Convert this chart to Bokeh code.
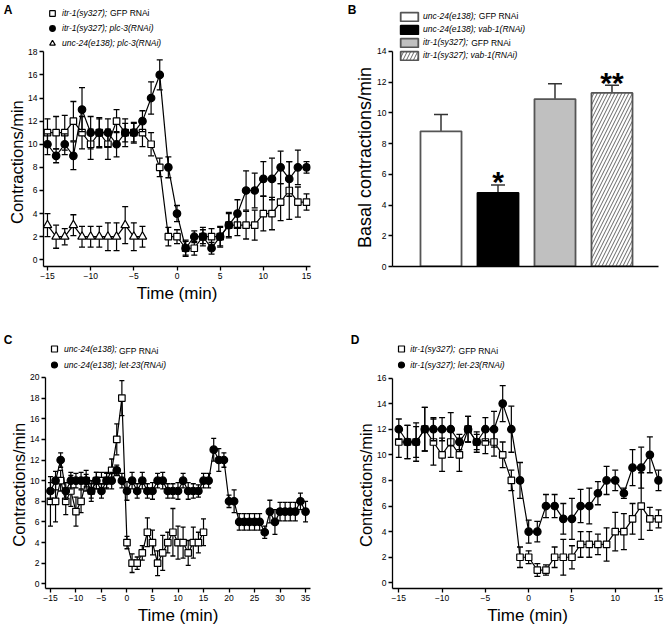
from bokeh.plotting import figure
from bokeh.layouts import column, row
from bokeh.models import (Range1d, FixedTicker, Legend, LegendItem, Title, ColumnDataSource,
                          LinearAxis, PrintfTickFormatter)
from bokeh.embed import file_html
from bokeh.resources import INLINE
from bokeh.core.properties import value

FONT = "Liberation Sans"

# ---------------- Panel A ----------------
t_A = list(range(-15, 16))
itr_gfp_A = [11, 11, 11, 12, 11, 10, 11, 10, 12, 11, 11, 11, 10, 8,
             2, 2, 1, 1, 2, 2, 2, 3, 3, 3, 3, 4, 4, 5, 6, 5, 5]
itr_gfp_A_err = [1.2, 1.4, 1.5, 1.7, 1.4, 1.3, 1.2, 1.3, 1.0, 0.8, 0.9, 1.2, 1.0, 0.8,
                 0.8, 0.6, 0.6, 0.6, 0.8, 0.7, 0.8, 1.0, 0.9, 1.2, 1.3, 1.5, 1.4, 1.6, 2.5, 1.3, 0.7]
itr_plc_A = [10, 9, 10, 9, 13, 11, 11, 11, 10, 11, 11, 12, 14, 16,
             8, 4, 1, 2, 2, 1, 2, 3, 4, 6, 6, 7, 7, 8, 7, 8, 8]
itr_plc_A_err = [0.9, 0.6, 0.9, 1.2, 1.9, 1.4, 1.3, 1.2, 1.1, 1.2, 0.8, 0.9, 1.4, 1.3,
                 0.9, 0.7, 0.7, 0.5, 0.6, 0.5, 0.9, 1.1, 1.2, 1.7, 1.5, 1.5, 1.8, 1.4, 1.5, 1.5, 0.5]
t_A_unc = list(range(-15, -3))
unc_plc_A = [3, 2, 2, 3, 2, 2, 2, 2, 2, 3, 2, 2]
unc_plc_A_err = [1.0, 1.0, 0.7, 0.9, 0.9, 0.9, 0.9, 1.2, 1.2, 1.6, 1.2, 0.9]
labels_A = ["itr-1(sy327);", "itr-1(sy327); plc-3(RNAi)", "unc-24(e138); plc-3(RNAi)"]
plain_A = ["GFP RNAi"]

# ---------------- Panel B ----------------
groups_B = ["unc-24(e138);", "unc-24(e138); vab-1(RNAi)",
            "itr-1(sy327);", "itr-1(sy327); vab-1(RNAi)"]
plain_B = ["GFP RNAi", "GFP RNAi"]
pos_B = [1, 2, 3, 4]
basal_B = [8.8, 4.8, 10.9, 11.3]
basal_B_err = [1.1, 0.5, 1.0, 0.5]
fill_B = ["white", "black", "#c0c0c0", "white"]
line_B = ["#555555", "black", "#555555", "#555555"]
hatch_B = [" ", " ", " ", "/"]
star_pos_B = [2, 4]
star_y_B = [5.53, 11.98]
star_text_B = ["*", "**"]

# ---------------- Panel C ----------------
t_C_gfp = list(range(-15, 16))
unc_gfp_C = [8, 8, 10, 8, 9, 7, 8, 10, 9, 10, 10, 10, 11, 14, 18,
             4, 2, 2, 3, 5, 4, 2, 3, 4, 5, 4, 4, 3, 4, 4, 5]
unc_gfp_C_err = [2.4, 2.0, 1.0, 1.3, 1.5, 1.4, 1.1, 1.0, 1.0, 0.8, 0.8, 0.8, 1.1, 1.5, 1.7,
                 0.6, 0.9, 0.6, 0.7, 1.4, 1.2, 1.2, 1.7, 1.0, 2.3, 1.6, 1.5, 1.2, 1.5, 1.0, 1.3]
t_C_let = list(range(-15, 36))
unc_let_C = [9, 10, 12, 9, 10, 10, 10, 10, 9, 10, 9, 10, 10, 11, 10,
             9, 10, 9, 10, 9, 9, 10, 10, 9, 9, 9, 10, 9, 9, 9, 10, 10,
             13, 12, 12, 8, 8, 6, 6, 6, 6, 6, 5, 7, 6, 7, 7, 7, 7, 8, 7]
unc_let_C_err = [0.8, 0.9, 0.7, 0.8, 0.8, 0.7, 0.8, 0.6, 0.7, 0.8, 0.7, 0.7, 0.8, 0.5, 0.7,
                 0.9, 0.8, 0.7, 0.8, 0.7, 0.8, 0.7, 0.8, 0.7, 0.7, 0.8, 0.7, 0.8, 0.7, 0.6, 0.7, 0.7,
                 1.1, 1.1, 0.7, 0.6, 1.1, 0.8, 0.8, 0.8, 0.8, 0.8, 0.6, 1.1, 1.2, 0.9, 0.9, 0.9, 0.9, 0.8, 1.0]
labels_C = ["unc-24(e138);", "unc-24(e138); let-23(RNAi)"]
plain_C = ["GFP RNAi"]

# ---------------- Panel D ----------------
t_D = list(range(-15, 16))
itr_gfp_D = [11, 11, 11, 12, 11, 10, 11, 10, 12, 11, 11, 11, 10, 8,
             2, 2, 1, 1, 2, 2, 2, 3, 3, 3, 3, 4, 4, 5, 6, 5, 5]
itr_gfp_D_err = [1.2, 1.3, 1.5, 1.7, 1.8, 1.3, 1.2, 1.3, 1.0, 0.8, 0.9, 1.1, 1.0, 0.8,
                 0.8, 0.5, 0.5, 0.4, 0.8, 1.4, 0.9, 1.0, 1.0, 0.8, 1.3, 1.5, 1.4, 1.2, 2.6, 0.9, 0.7]
itr_let_D = [12, 11, 11, 12, 12, 12, 12, 11, 12, 11, 12, 12, 14, 12,
             8, 4, 4, 6, 6, 5, 5, 6, 6, 7, 8, 8, 7, 9, 9, 10, 8]
itr_let_D_err = [0.8, 1.3, 1.2, 1.7, 0.9, 0.9, 1.3, 0.6, 1.0, 0.6, 0.9, 1.4, 1.4, 1.8,
                 1.4, 0.9, 0.8, 0.9, 0.9, 1.2, 1.6, 1.3, 1.4, 0.9, 1.1, 0.8, 0.4, 1.4, 1.6, 1.4, 0.8]
labels_D = ["itr-1(sy327);", "itr-1(sy327); let-23(RNAi)"]
plain_D = ["GFP RNAi"]


def series(p, t, v, e, marker, fill, size, cap=6):
    lo = [a - b for a, b in zip(v, e)]
    hi = [a + b for a, b in zip(v, e)]
    src = ColumnDataSource(dict(t=t, v=v, lo=lo, hi=hi))
    p.segment(x0="t", y0="lo", x1="t", y1="hi", source=src, line_color="black", line_width=1.2)
    p.scatter(x="t", y="hi", source=src, marker="dash", size=cap, line_color="black", line_width=1.3)
    p.scatter(x="t", y="lo", source=src, marker="dash", size=cap, line_color="black", line_width=1.3)
    p.line(x="t", y="v", source=src, line_color="black", line_width=1.2)
    return p.scatter(x="t", y="v", source=src, marker=marker, size=size, fill_color=fill,
                     line_color="black", line_width=1.2)


def make_fig(w, h, left, right, bottom, xr, yr):
    p = figure(width=w, height=h, x_range=Range1d(*xr), y_range=Range1d(*yr),
               output_backend="svg", toolbar_location=None, title=None,
               min_border_left=left, min_border_right=right, min_border_top=0,
               min_border_bottom=bottom)
    p.outline_line_color = None
    p.xgrid.visible = False
    p.ygrid.visible = False
    p.background_fill_color = "white"
    for ax in (p.xaxis[0], p.yaxis[0]):
        ax.axis_line_width = 1.3
        ax.axis_line_color = "black"
        ax.major_tick_line_width = 1.3
        ax.major_tick_line_color = "black"
        ax.major_tick_out = 4
        ax.major_tick_in = 0
        ax.minor_tick_line_color = None
        ax.major_label_text_font = FONT
        ax.major_label_text_font_size = "8.5px"
        ax.major_label_text_color = "black"
        ax.major_label_standoff = 2
        ax.axis_label_text_font = FONT
        ax.axis_label_text_font_size = "17px"
        ax.axis_label_text_font_style = "normal"
        ax.axis_label_text_color = "black"
        ax.axis_label_standoff = 2
    return p


def ylabel(p, text, size, offset):
    p.add_layout(Title(text=text, align="left", offset=offset, standoff=0,
                       text_font=FONT, text_font_size=size, text_font_style="normal",
                       text_color="black"), "left")


def letter(p, text, ypos, standoff):
    # panel letter drawn as the single tick label of a bare, outermost left axis
    ax = LinearAxis(ticker=FixedTicker(ticks=[ypos]),
                    formatter=PrintfTickFormatter(format=text),
                    axis_line_color=None, major_tick_line_color=None,
                    minor_tick_line_color=None, major_tick_out=0, major_tick_in=0,
                    major_label_standoff=standoff, major_label_text_font=FONT,
                    major_label_text_font_size="12px", major_label_text_font_style="bold",
                    major_label_text_color="black")
    p.add_layout(ax, "left")


def legend(p, items, loc, gw, gh, spacing, standoff):
    lg = Legend(items=items, location=loc, orientation="vertical", glyph_width=gw,
                glyph_height=gh, label_height=gh, label_standoff=standoff, spacing=spacing,
                padding=0, margin=0, border_line_color=None, background_fill_alpha=0,
                label_text_font=FONT, label_text_font_size="8.5px",
                label_text_font_style="italic", label_text_color="black")
    p.add_layout(lg)


def plain_text(p, xs, ys, texts):
    p.text(x=xs, y=ys, text=texts, text_font=value(FONT), text_font_size="8.5px",
           text_font_style="normal", text_align="left", text_baseline="middle",
           text_color="black")


# ---- A ----  (frame 42..310 x 0..267)
pA = make_fig(333, 330, 42, 23, 63, (-15.46, 15.46), (-0.578, 22.44))
pA.xaxis.ticker = FixedTicker(ticks=[-15, -10, -5, 0, 5, 10, 15])
pA.yaxis.ticker = FixedTicker(ticks=list(range(0, 19, 2)))
pA.yaxis.bounds = (-0.578, 18)
pA.xaxis.axis_label = "Time (min)"
ylabel(pA, "Contractions/min", "16.5px", 42.5)
letter(pA, "A", 21.62, -7)
rA1 = series(pA, t_A, itr_gfp_A, itr_gfp_A_err, "square", "white", 6.5)
rA2 = series(pA, t_A, itr_plc_A, itr_plc_A_err, "circle", "black", 7.5)
rA3 = series(pA, t_A_unc, unc_plc_A, unc_plc_A_err, "triangle", "white", 8.5)
legend(pA, [LegendItem(label=labels_A[0], renderers=[rA1]),
            LegendItem(label=labels_A[1], renderers=[rA2]),
            LegendItem(label=labels_A[2], renderers=[rA3])],
       (0, 215.7), 18, 14, 1, 1)
plain_text(pA, [-7.76], [21.37], plain_A)

# ---- B ----  (frame 59..325 local)
pB = make_fig(333, 330, 59, 8, 64, (0.149, 4.816), (0, 17.32))
pB.yaxis.ticker = FixedTicker(ticks=list(range(0, 15, 2)))
pB.yaxis.bounds = (0, 14)
pB.xaxis.ticker = FixedTicker(ticks=[])
pB.xaxis.major_label_text_font_size = "0px"
pB.xaxis.major_tick_line_color = None
ylabel(pB, "Basal contractions/min", "18px", 18.5)
letter(pB, "B", 16.70, -4)
srcB = ColumnDataSource(dict(x=pos_B, top=basal_B, hi=[a + b for a, b in zip(basal_B, basal_B_err)],
                             fill=fill_B, line=line_B, hatch=hatch_B))
pB.segment(x0="x", y0="top", x1="x", y1="hi", source=srcB, line_color="#333333", line_width=1.5)
pB.scatter(x="x", y="hi", source=srcB, marker="dash", size=14, line_color="#333333", line_width=1.5)
rB = pB.vbar(x="x", top="top", bottom=0, width=0.72, source=srcB, fill_color="fill",
             line_color="line", line_width=1.8, hatch_pattern="hatch", hatch_color="#555555",
             hatch_scale=7, hatch_weight=0.9)
pB.text(x=star_pos_B, y=star_y_B, text=star_text_B, text_font=value(FONT),
        text_font_size="30px", text_font_style="bold", text_align="center",
        text_baseline="alphabetic", text_color="black")
legend(pB, [LegendItem(label=groups_B[i], renderers=[rB], index=i) for i in range(4)],
       (6, 205.5), 22, 11, 2, 3)
plain_text(pB, [1.663, 1.53], [16.28, 14.58], plain_B)

# ---- C ----  (frame 42..310, local y 0..262)
pC = make_fig(333, 297, 42, 23, 35, (-15.97, 35.97), (-0.45, 24.55))
pC.xaxis.ticker = FixedTicker(ticks=list(range(-15, 36, 5)))
pC.yaxis.ticker = FixedTicker(ticks=list(range(0, 21, 2)))
pC.yaxis.bounds = (-0.45, 20)
pC.xaxis.axis_label = "Time (min)"
ylabel(pC, "Contractions/min", "16.5px", 41.8)
letter(pC, "C", 23.6, -5)
rC1 = series(pC, t_C_gfp, unc_gfp_C, unc_gfp_C_err, "square", "white", 6.5, cap=5)
rC2 = series(pC, t_C_let, unc_let_C, unc_let_C_err, "circle", "black", 7.5, cap=5)
legend(pC, [LegendItem(label=labels_C[0], renderers=[rC1]),
            LegendItem(label=labels_C[1], renderers=[rC2])],
       (0, 215.8), 18, 15, 1, 1)
plain_text(pC, [-1.57], [22.57], plain_C)

# ---- D ----  (frame 59..329 local)
pD = make_fig(333, 297, 59, 4, 35, (-15.728, 15.46), (-0.44, 19.71))
pD.xaxis.ticker = FixedTicker(ticks=[-15, -10, -5, 0, 5, 10, 15])
pD.yaxis.ticker = FixedTicker(ticks=list(range(0, 17, 2)))
pD.yaxis.bounds = (-0.44, 16)
pD.xaxis.axis_label = "Time (min)"
ylabel(pD, "Contractions/min", "16.5px", 41.5)
letter(pD, "D", 18.94, -5)
rD1 = series(pD, t_D, itr_gfp_D, itr_gfp_D_err, "square", "white", 6.5)
rD2 = series(pD, t_D, itr_let_D, itr_let_D_err, "circle", "black", 7.5)
legend(pD, [LegendItem(label=labels_D[0], renderers=[rD1]),
            LegendItem(label=labels_D[1], renderers=[rD2])],
       (0.3, 215.8), 18, 15, 1, 0)
plain_text(pD, [-8.10], [18.11], plain_D)

layout = column(row(pA, pB), row(pC, pD))
open("out.html", "w").write(file_html(layout, INLINE))
